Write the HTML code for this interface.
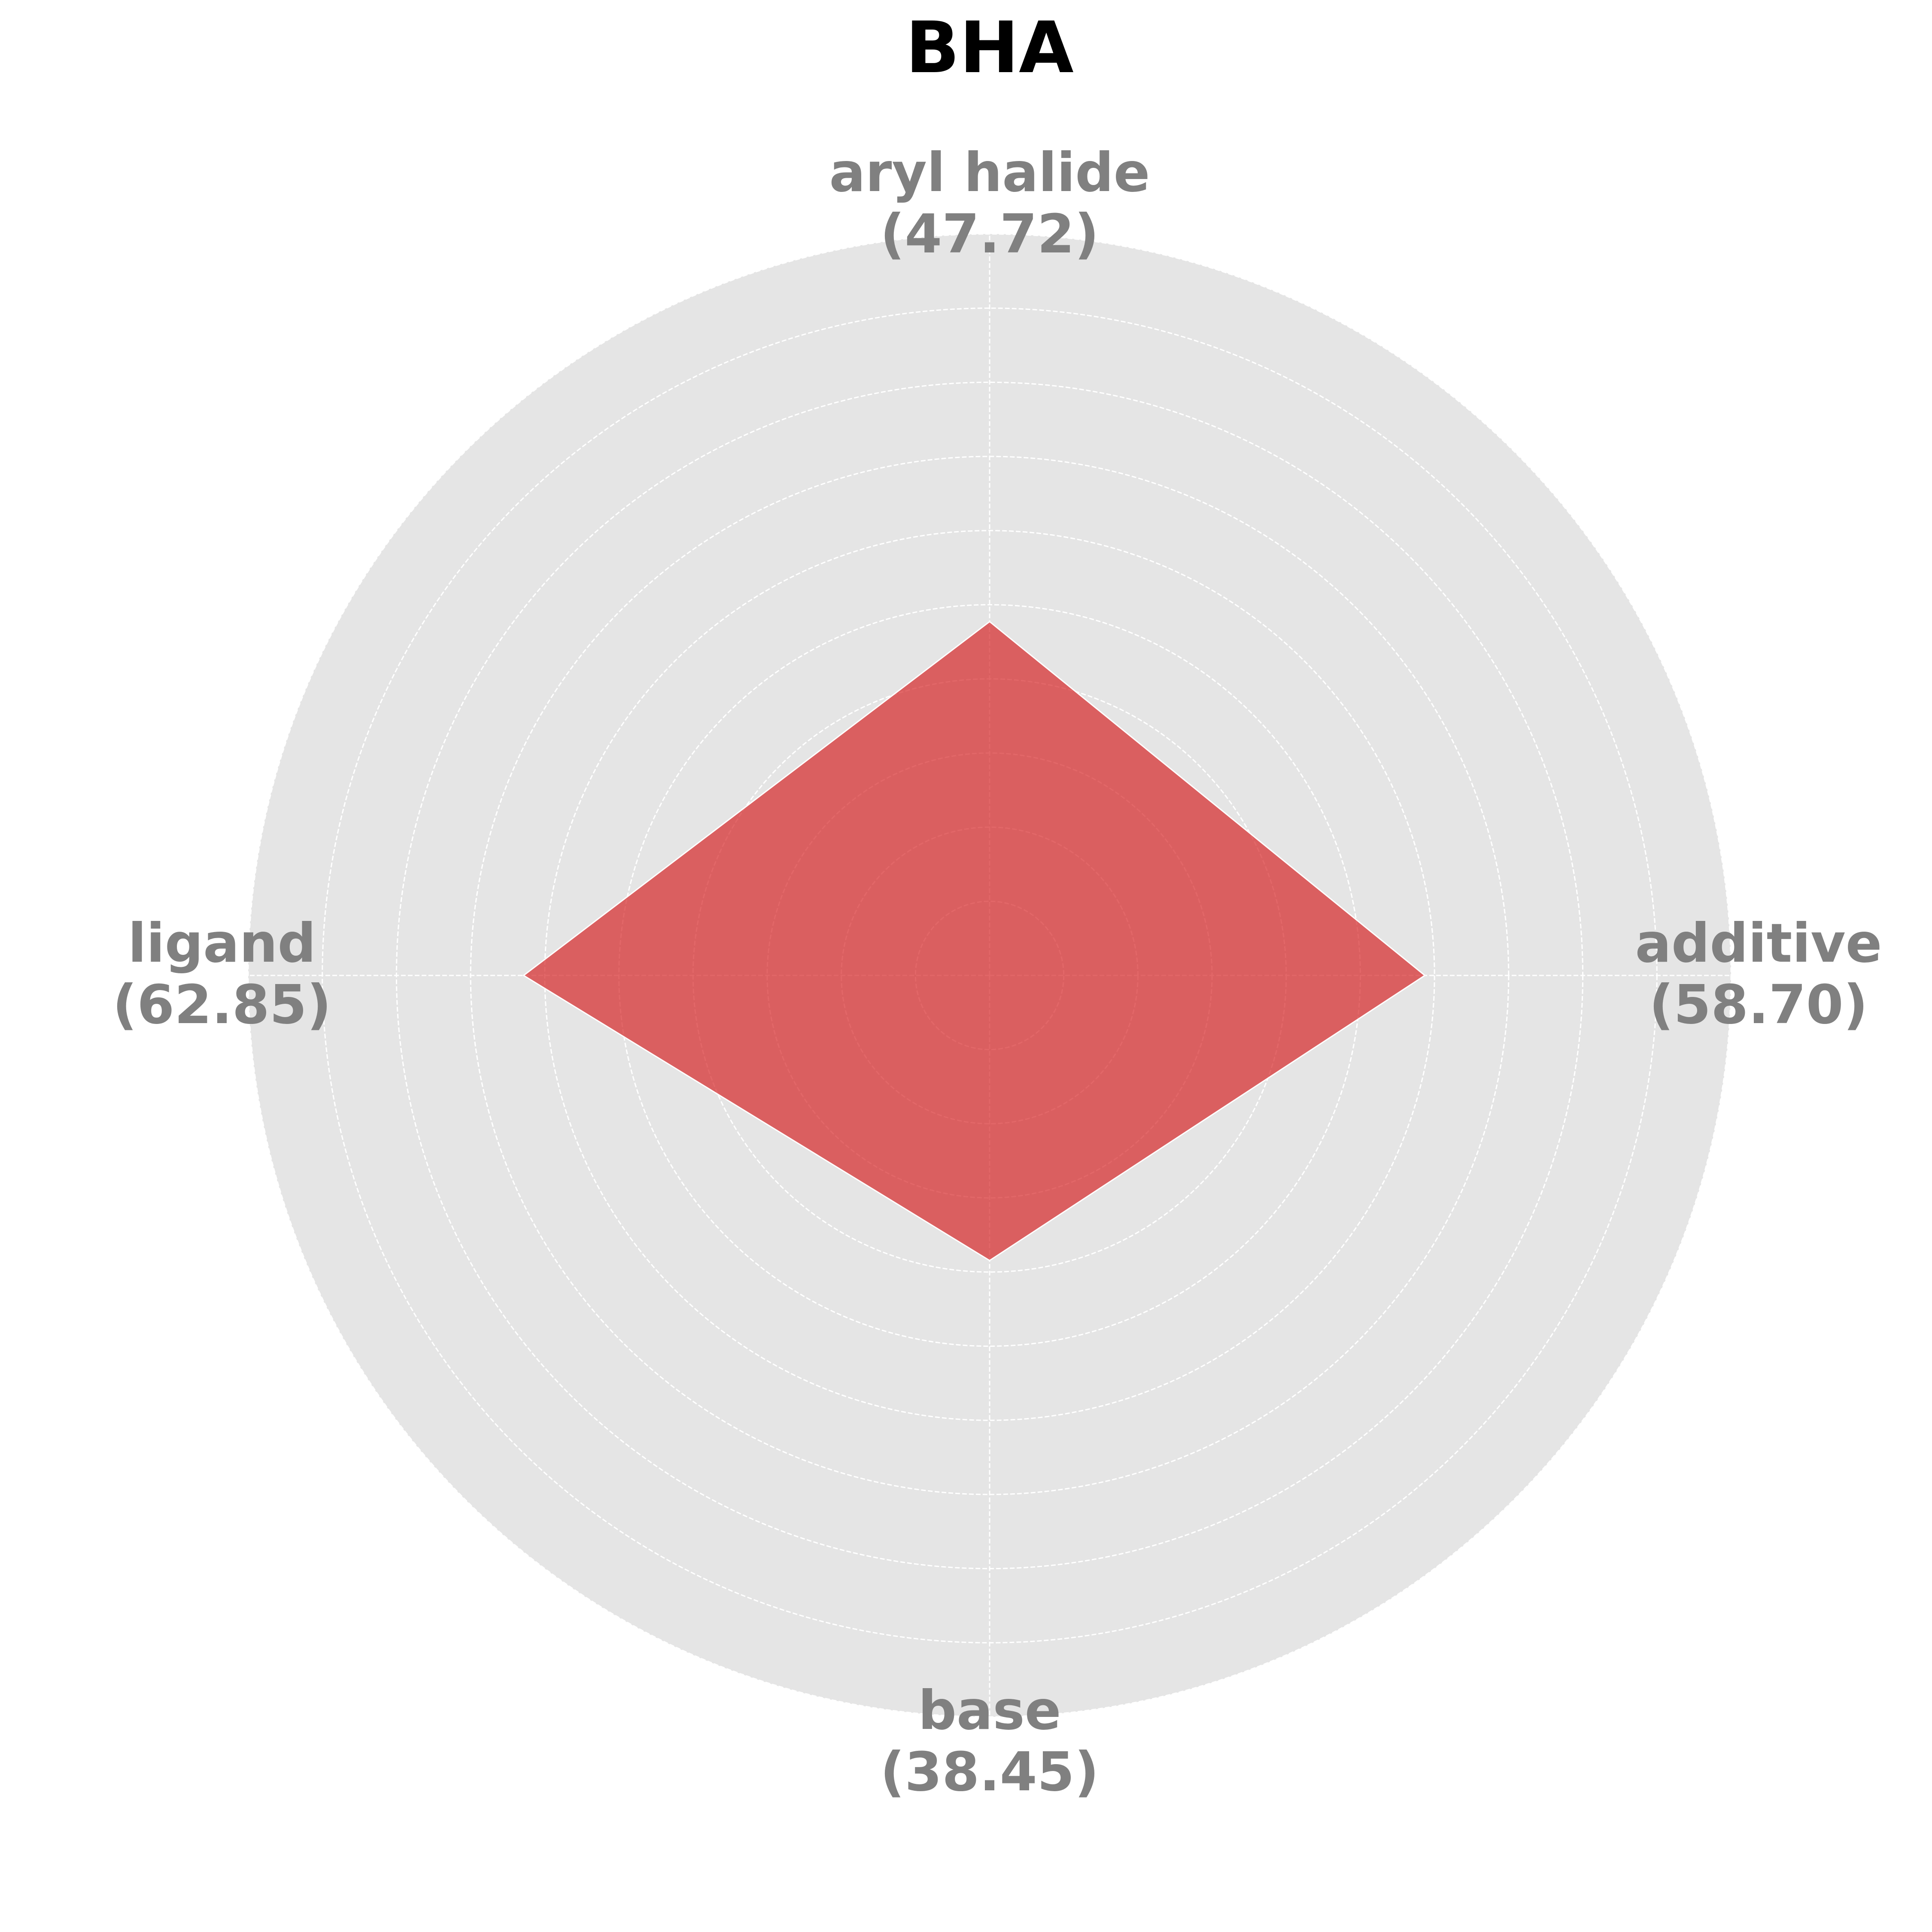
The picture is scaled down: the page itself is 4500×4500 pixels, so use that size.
<!DOCTYPE html>
<html><head><meta charset="utf-8"><style>
html,body{margin:0;padding:0;background:#fff;width:4500px;height:4500px;overflow:hidden}
svg{display:block}
text{font-family:"DejaVu Sans","Liberation Sans",sans-serif;font-weight:bold}
</style></head><body>
<svg id="chart" width="4500" height="4500" viewBox="0 0 4500 4500">
<rect width="4500" height="4500" fill="#fff"/>
<text x="2305" y="168" font-size="165" text-anchor="middle" fill="#000">BHA</text>
<g id="grid"></g><g id="marks"></g><g id="labels"></g>
</svg>
<script>
const categories = ["aryl halide","additive","base","ligand"];
const values = [47.72, 58.70, 38.45, 62.85];
const ringTicks = [10,20,30,40,50,60,70,80,90,100];
const rMax = 100;

const NS="http://www.w3.org/2000/svg";
const cx=2305, cy=2272, R=1727;
function rScale(v){return v/rMax*R;}
function ang(i){return -Math.PI/2 + i*2*Math.PI/categories.length;}
function pt(i,v){return [cx+rScale(v)*Math.cos(ang(i)), cy+rScale(v)*Math.sin(ang(i))];}
function mk(tag,attrs,parent){const e=document.createElementNS(NS,tag);for(const k in attrs)e.setAttribute(k,attrs[k]);parent.appendChild(e);return e;}

const grid=document.getElementById('grid');
const bg=mk('circle',{cx:cx,cy:cy,r:R,fill:'#e5e5e5'},grid);


ringTicks.forEach(t=>{
  const c=mk('circle',{cx:cx,cy:cy,r:rScale(t),fill:'none',stroke:'#fff','stroke-width':3,'stroke-dasharray':'11 5'},grid);
  
  
});
categories.forEach((c,i)=>{
  const p=pt(i,rMax);
  const l=mk('line',{x1:cx,y1:cy,x2:p[0],y2:p[1],stroke:'#fff','stroke-width':3,'stroke-dasharray':'11 5'},grid);
  
  
});

const marks=document.getElementById('marks');
const pts=values.map((v,i)=>pt(i,v).join(',')).join(' ');
const poly=mk('polygon',{points:pts,fill:'#d62728','fill-opacity':0.7,stroke:'#fff','stroke-width':3},marks);



const labels=document.getElementById('labels');
const labelPos=[[2305,445],[4096,2240],[2305,4027],[517,2240]];
categories.forEach((c,i)=>{
  const t=mk('text',{x:labelPos[i][0],y:labelPos[i][1],'font-size':125,'text-anchor':'middle',fill:'#808080'},labels);
  
  
  const a=mk('tspan',{x:labelPos[i][0]},t); a.textContent=c;
  const b=mk('tspan',{x:labelPos[i][0],dy:143},t); b.textContent='('+values[i].toFixed(2)+')';
});
</script>
</body></html>
